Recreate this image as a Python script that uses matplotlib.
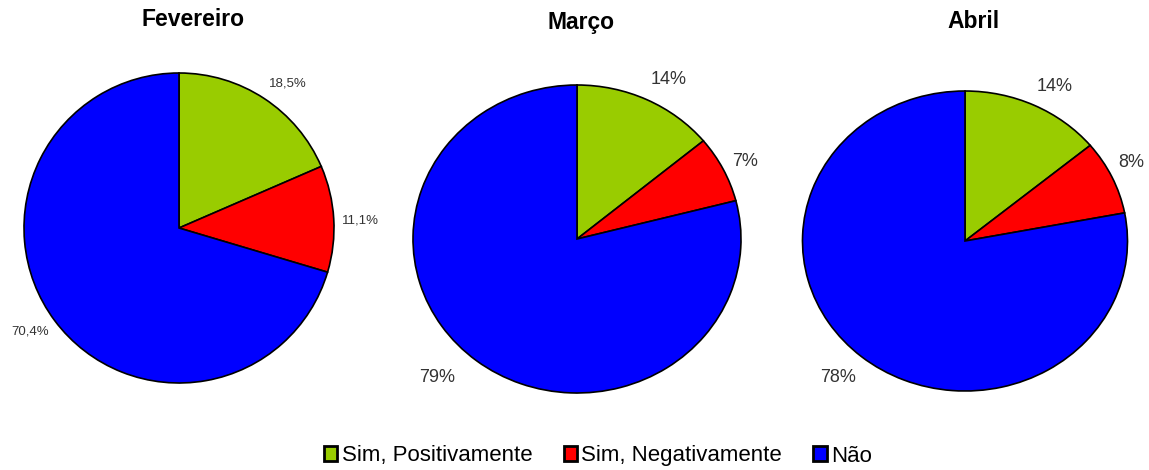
import numpy as np
import matplotlib.pyplot as plt
from matplotlib.patches import Rectangle

# Data
months = ["Fevereiro", "Março", "Abril"]
categories = ["Sim, Positivamente", "Sim, Negativamente", "Não"]
fev_values = [18.5, 11.1, 70.4]
mar_values = [14, 7, 79]
abr_values = [14, 8, 78]
fev_labels = ["18,5%", "11,1%", "70,4%"]
mar_labels = ["14%", "7%", "79%"]
abr_labels = ["14%", "8%", "78%"]

colors = ["#99CC00", "#FF0000", "#0000FF"]

plt.rcParams["font.family"] = ["Liberation Sans", "DejaVu Sans"]

W, H = 1149, 470
fig = plt.figure(figsize=(W / 100, H / 100), dpi=100)

# pie layout in pixels: center x, center y (from top), radius x, radius y
layout = [(179, 228, 155, 155), (577, 239, 164, 154), (965, 241, 162.5, 150)]
title_pos = [(193, 20), (581, 22), (973, 22)]
label_size = [9.5, 13, 13]
# (distance, angle shift in degrees) of each wedge label
label_place = [
    [(1.165, -3.8), (1.17, -0.9), (1.17, -1.8)],
    [(1.175, -3.3), (1.142, -0.7), (1.24, -5.8)],
    [(1.172, -3.0), (1.148, 2.1), (1.2, -0.9)],
]

all_values = [fev_values, mar_values, abr_values]
all_labels = [fev_labels, mar_labels, abr_labels]

for i, (cx, cy, rx, ry) in enumerate(layout):
    ax = fig.add_axes([(cx - rx) / W, (H - cy - ry) / H, 2 * rx / W, 2 * ry / H])
    wedges, _ = ax.pie(all_values[i], colors=colors, startangle=90, counterclock=False,
                       wedgeprops=dict(edgecolor="black", linewidth=1.2))
    ax.set_aspect("auto")
    ax.set_xlim(-1, 1)
    ax.set_ylim(-1, 1)
    ax.axis("off")
    for j, w in enumerate(wedges):
        d, shift = label_place[i][j]
        ang = np.deg2rad((w.theta1 + w.theta2) / 2 + shift)
        ax.text(d * np.cos(ang), d * np.sin(ang), all_labels[i][j], ha="center", va="center",
                fontsize=label_size[i], color="#333333", clip_on=False)
    tx, ty = title_pos[i]
    fig.text(tx / W, 1 - ty / H, months[i], ha="center", va="center",
             fontsize=16.5, fontweight="bold")

handles = [Rectangle((0, 0), 1, 1, facecolor=c, edgecolor="black", linewidth=2) for c in colors]
fig.legend(handles, categories, loc="center", bbox_to_anchor=(598 / W, 1 - 456 / H),
           ncol=3, frameon=False, fontsize=16, handlelength=0.6, handleheight=0.65,
           handletextpad=0.2, columnspacing=1.4)

fig.savefig("out.png", dpi=100)
